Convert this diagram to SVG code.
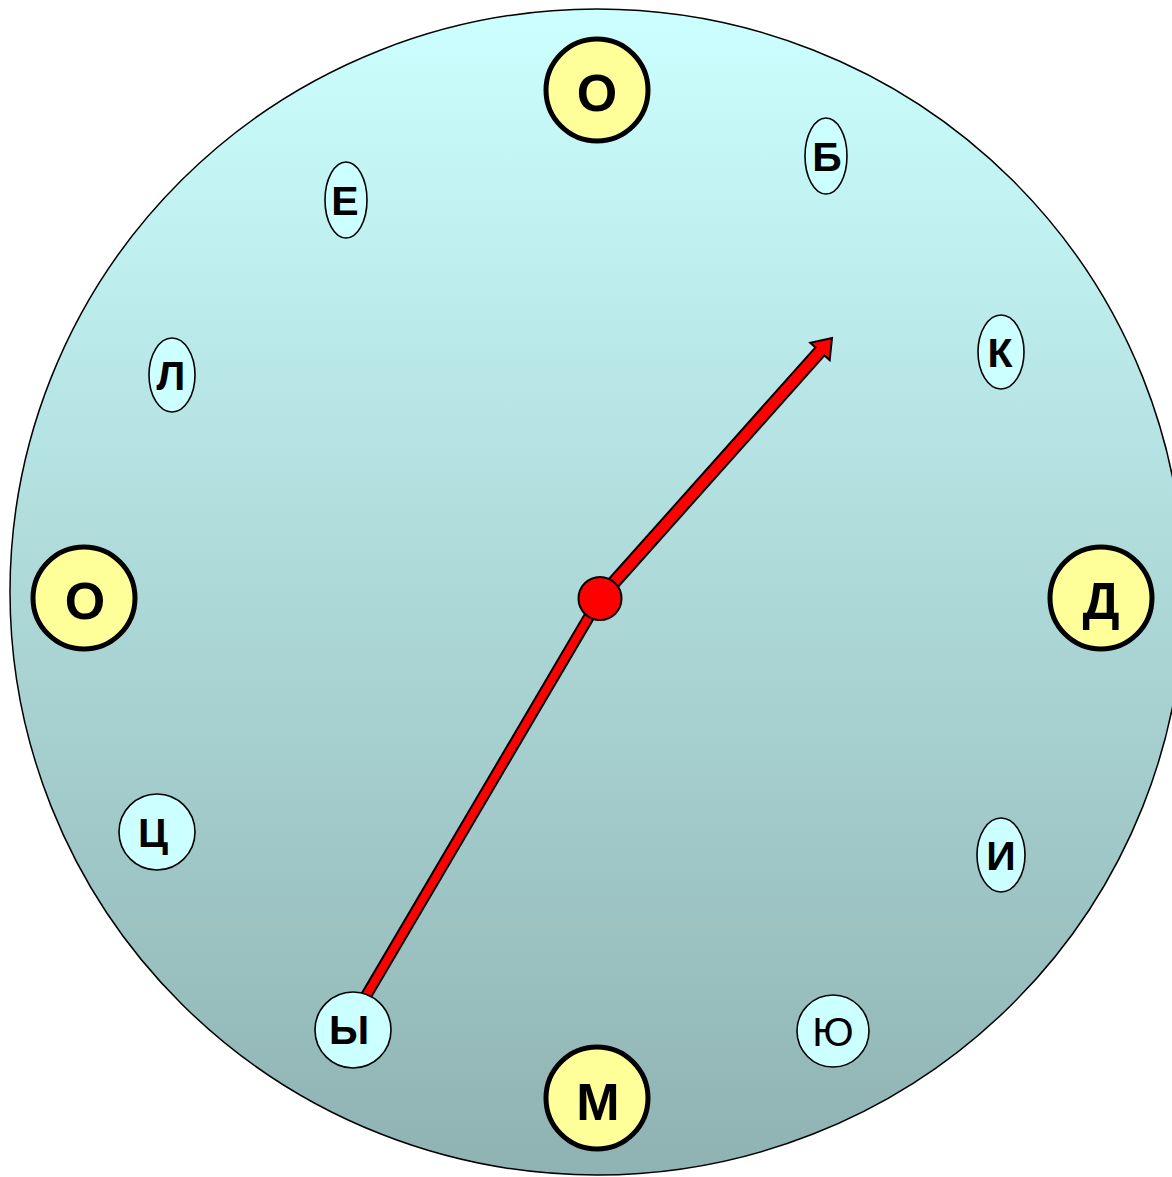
<svg xmlns="http://www.w3.org/2000/svg" width="1172" height="1177" viewBox="0 0 1172 1177">
  <defs>
    <linearGradient id="bg" x1="0" y1="0" x2="0" y2="1">
      <stop offset="0" stop-color="#CCFFFF"/>
      <stop offset="1" stop-color="#8FB2B2"/>
    </linearGradient>
    <style>
      .big { fill: #FFFF99; stroke: #000; stroke-width: 5; }
      .small { fill: #CCFFFF; stroke: #000; stroke-width: 1.6; }
      .bt { font-family: "Liberation Sans", Arial, sans-serif; font-weight: bold; font-size: 52px; text-anchor: middle; fill: #000; }
      .st { font-family: "Liberation Sans", Arial, sans-serif; font-weight: bold; font-size: 41px; text-anchor: middle; fill: #000; }
      .rt { font-family: "Liberation Sans", Arial, sans-serif; font-weight: normal; font-size: 41px; text-anchor: middle; fill: #000; }
      .hand { fill: #FF0000; stroke: #000; stroke-width: 2; stroke-linejoin: miter; }
    </style>
  </defs>
  <rect width="1172" height="1177" fill="#FFFFFF"/>
  <g id="dial">
    <ellipse cx="597" cy="592" rx="587" ry="583" fill="url(#bg)" stroke="#000" stroke-width="1.5"/>
  </g>
  <g id="connectors">
    <polygon class="hand" points="595.7,595.5 604.3,600.5 370.3,998.5 361.7,993.5"/>
    <polygon class="hand" points="595.5,594 815.5,347.4 810.3,342.7 832,338 829.7,360.1 824.5,355.4 604.5,602"/>
  </g>
  <g id="center">
    <circle cx="600" cy="598.5" r="21.5" fill="#FF0000" stroke="#000" stroke-width="2"/>
  </g>
  <g id="node-O-top">
    <circle class="big" cx="597" cy="90" r="51"/>
    <text class="bt" x="597" y="111">О</text>
  </g>
  <g id="node-B">
    <ellipse class="small" cx="826" cy="156" rx="21" ry="38"/>
    <text class="st" x="827" y="171">Б</text>
  </g>
  <g id="node-K">
    <ellipse class="small" cx="1001" cy="352" rx="23" ry="37"/>
    <text class="st" x="1000" y="367">К</text>
  </g>
  <g id="node-D">
    <circle class="big" cx="1101" cy="598" r="51"/>
    <text class="bt" x="1101" y="619">Д</text>
  </g>
  <g id="node-I">
    <ellipse class="small" cx="1001" cy="855" rx="24" ry="37"/>
    <text class="st" x="1001" y="870">И</text>
  </g>
  <g id="node-Yu">
    <circle class="small" cx="833" cy="1031" r="36"/>
    <text class="rt" x="833" y="1046">Ю</text>
  </g>
  <g id="node-M">
    <circle class="big" cx="597" cy="1098" r="51"/>
    <text class="bt" x="598" y="1120">М</text>
  </g>
  <g id="node-Y">
    <circle class="small" cx="353" cy="1030" r="38"/>
    <text class="st" x="349" y="1044">Ы</text>
  </g>
  <g id="node-C">
    <circle class="small" cx="157" cy="832" r="38"/>
    <text class="st" x="153" y="847">Ц</text>
  </g>
  <g id="node-O-left">
    <circle class="big" cx="84" cy="598" r="51"/>
    <text class="bt" x="85" y="619">О</text>
  </g>
  <g id="node-L">
    <ellipse class="small" cx="172" cy="375" rx="23" ry="37"/>
    <text class="st" x="171" y="390">Л</text>
  </g>
  <g id="node-E">
    <ellipse class="small" cx="346" cy="200" rx="21" ry="38"/>
    <text class="st" x="345" y="215">Е</text>
  </g>
</svg>
